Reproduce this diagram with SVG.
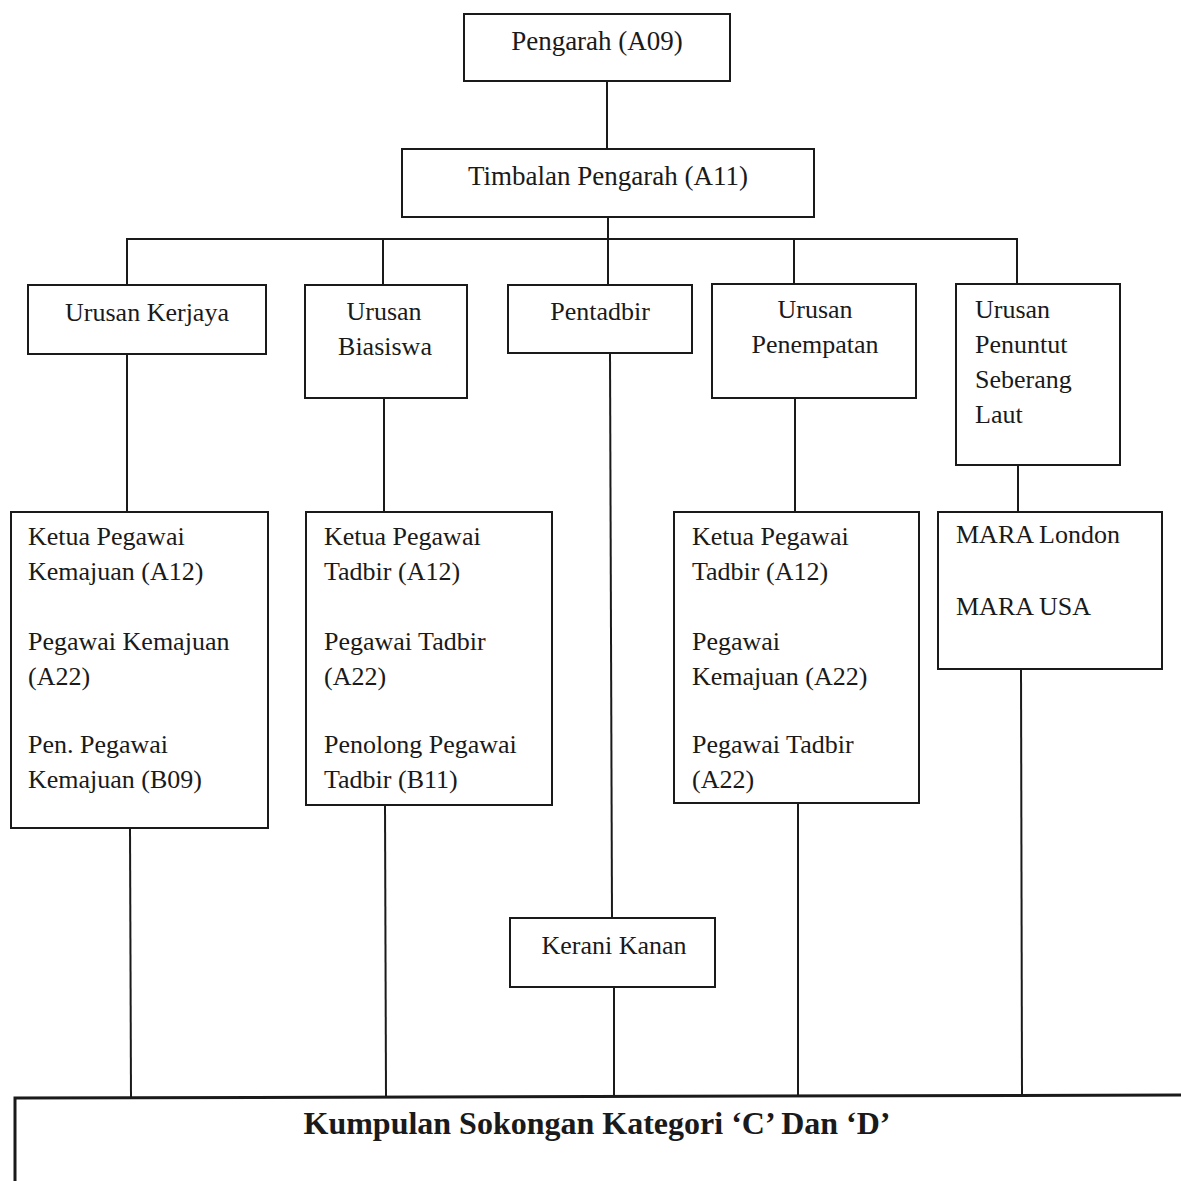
<svg xmlns="http://www.w3.org/2000/svg" width="1181" height="1181" viewBox="0 0 1181 1181">
<style>
.box{fill:#fff;stroke:#1a1a1a;stroke-width:2}
.ln{stroke:#1a1a1a;stroke-width:2;fill:none}
text{font-family:"Liberation Serif","Times New Roman",serif;fill:#1a1a1a;font-size:26px}
.c{text-anchor:middle}
.big{font-size:27px}
.title{font-size:32px;font-weight:bold}
</style>
<rect width="1181" height="1181" fill="#fff"/>
<g id="connectors">
<line class="ln" x1="607" y1="81" x2="607" y2="149"/>
<line class="ln" x1="608" y1="217" x2="608" y2="285"/>
<polyline class="ln" points="127,285 127,239 1017,239 1017,285"/>
<line class="ln" x1="383" y1="239" x2="383" y2="285"/>
<line class="ln" x1="794" y1="239" x2="794" y2="285"/>
<line class="ln" x1="127" y1="354" x2="127" y2="512"/>
<line class="ln" x1="384" y1="398" x2="384" y2="512"/>
<line class="ln" x1="610" y1="353" x2="612" y2="918"/>
<line class="ln" x1="795" y1="398" x2="795" y2="512"/>
<line class="ln" x1="1018" y1="465" x2="1018" y2="512"/>
<line class="ln" x1="130" y1="828" x2="131" y2="1098"/>
<line class="ln" x1="385" y1="805" x2="386" y2="1098"/>
<line class="ln" x1="614" y1="987" x2="614" y2="1098"/>
<line class="ln" x1="798" y1="803" x2="798" y2="1098"/>
<line class="ln" x1="1021" y1="669" x2="1022" y2="1097"/>
</g>
<g id="pengarah">
<rect class="box" x="464" y="14" width="266" height="67"/>
<text class="c big" x="597" y="50">Pengarah (A09)</text>
</g>
<g id="timbalan">
<rect class="box" x="402" y="149" width="412" height="68"/>
<text class="c big" x="608" y="185">Timbalan Pengarah (A11)</text>
</g>
<g id="kerjaya">
<rect class="box" x="28" y="285" width="238" height="69"/>
<text class="c" x="147" y="321">Urusan Kerjaya</text>
</g>
<g id="biasiswa">
<rect class="box" x="305" y="285" width="162" height="113"/>
<text class="c" x="384" y="320">Urusan</text>
<text class="c" x="385" y="355">Biasiswa</text>
</g>
<g id="pentadbir">
<rect class="box" x="508" y="285" width="184" height="68"/>
<text class="c" x="600" y="320">Pentadbir</text>
</g>
<g id="penempatan">
<rect class="box" x="712" y="284" width="204" height="114"/>
<text class="c" x="815" y="318">Urusan</text>
<text class="c" x="815" y="353">Penempatan</text>
</g>
<g id="seberang">
<rect class="box" x="956" y="284" width="164" height="181"/>
<text x="975" y="318">Urusan</text>
<text x="975" y="353">Penuntut</text>
<text x="975" y="388">Seberang</text>
<text x="975" y="423">Laut</text>
</g>
<g id="kerjaya-staff">
<rect class="box" x="11" y="512" width="257" height="316"/>
<text x="28" y="545">Ketua Pegawai</text>
<text x="28" y="580">Kemajuan (A12)</text>
<text x="28" y="650">Pegawai Kemajuan</text>
<text x="28" y="685">(A22)</text>
<text x="28" y="753">Pen. Pegawai</text>
<text x="28" y="788">Kemajuan (B09)</text>
</g>
<g id="biasiswa-staff">
<rect class="box" x="306" y="512" width="246" height="293"/>
<text x="324" y="545">Ketua Pegawai</text>
<text x="324" y="580">Tadbir (A12)</text>
<text x="324" y="650">Pegawai Tadbir</text>
<text x="324" y="685">(A22)</text>
<text x="324" y="753">Penolong Pegawai</text>
<text x="324" y="788">Tadbir (B11)</text>
</g>
<g id="penempatan-staff">
<rect class="box" x="674" y="512" width="245" height="291"/>
<text x="692" y="545">Ketua Pegawai</text>
<text x="692" y="580">Tadbir (A12)</text>
<text x="692" y="650">Pegawai</text>
<text x="692" y="685">Kemajuan (A22)</text>
<text x="692" y="753">Pegawai Tadbir</text>
<text x="692" y="788">(A22)</text>
</g>
<g id="mara">
<rect class="box" x="938" y="512" width="224" height="157"/>
<text x="956" y="543">MARA London</text>
<text x="956" y="615">MARA USA</text>
</g>
<g id="kerani">
<rect class="box" x="510" y="918" width="205" height="69"/>
<text class="c" x="614" y="954">Kerani Kanan</text>
</g>
<g id="sokongan">
<path d="M15,1190 L15,1098 L1181,1095" fill="#fff" stroke="#1a1a1a" stroke-width="3"/>
<text class="c title" x="597" y="1134">Kumpulan Sokongan Kategori ‘C’ Dan ‘D’</text>
</g>
</svg>
